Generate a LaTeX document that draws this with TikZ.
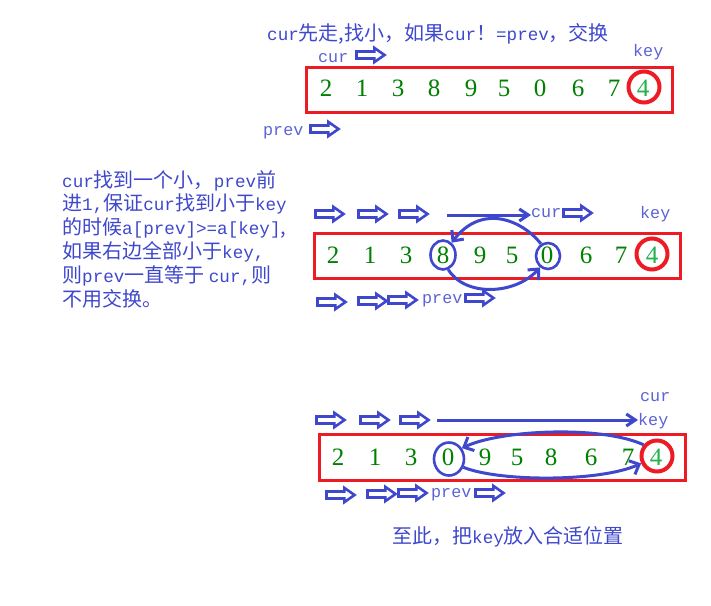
\documentclass[tikz,border=0pt]{standalone}
\usepackage{fontspec}
\setmainfont{Liberation Serif}
\newfontfamily\cjk{Noto Sans CJK SC}
\newfontfamily\mono[Scale=0.88]{Liberation Mono}
\usetikzlibrary{arrows.meta}
\usetikzlibrary{shapes.arrows}
\usetikzlibrary{shapes.geometric}
\definecolor{indigo}{RGB}{63,72,204}
\definecolor{rougep}{RGB}{237,28,36}
\definecolor{vertcode}{RGB}{0,128,0}
\definecolor{vertp}{RGB}{34,177,76}
\newcommand{\en}[1]{{\mono #1}}
\tikzset{
  chiffre/.style={text=vertcode,font=\fontsize{25}{25}\selectfont,inner sep=0pt,anchor=base},
  cle/.style={chiffre,text=vertp},
  boite/.style={draw=rougep,line width=3pt},
  anneau/.style={circle,draw=rougep,line width=4pt,minimum size=31pt,inner sep=0pt},
  rond/.style={ellipse,draw=indigo,line width=2.6pt,inner sep=0pt},
  fleche/.style={single arrow,draw=indigo,line width=2.6pt,minimum height=28pt,
    inner sep=2.2pt,single arrow head extend=3.6pt,single arrow tip angle=70},
  etiq/.style={text=indigo!85,font=\mono\fontsize{19}{19}\selectfont,inner sep=0pt,anchor=base west},
  texte/.style={text=indigo,font=\cjk\fontsize{20}{23.8}\selectfont,inner sep=0pt,
    anchor=base west,align=left},
  trait/.style={draw=indigo,line width=3pt,-{Straight Barb[length=9pt,width=12pt]}},
  retour/.style={draw=indigo,line width=3pt,-{Straight Barb[length=8pt,width=15pt]}}
}
% une rangee de chiffres : nom, ligne de base, liste x/chiffre
\newcommand{\Rangee}[3]{%
  \foreach \x/\c [count=\i] in {#3}
    \node[chiffre] (#1\i) at (\x,#2) {\c};
}

\begin{document}
\begin{tikzpicture}[x=1pt,y=-1pt]
\fill[white] (0,0) rectangle (711,605);
\useasboundingbox (0,0) rectangle (711,605);

% premiere etape
\node[texte] (titre) at (267,40.5) {\en{cur}先走,找小，如果\en{cur}！\en{=prev}，交换};
\node[etiq] (curA) at (318,62) {cur};
\node[fleche] (fA1) at (368,55) {};
\node[etiq] (keyA) at (633,56) {key};
\draw[boite] (306,67) rectangle (672,112);
\Rangee{A}{96.5}{326/2,362/1,398/3,434/8,471/9,504/5,540/0,578/6,614/7}
\node[cle] (Ak) at (643,96.5) {4};
\node[anneau] (Ar) at (644,87) {};
\node[etiq] (prevA) at (263,135) {prev};
\node[fleche] (fA2) at (322,129) {};

% explication (ligne de base de la derniere ligne)
\node[texte] (explication) at (62,306) {\en{cur}找到一个小，\en{prev}前\\
  进\en{1,}保证\en{cur}找到小于\en{key}\\
  的时候\en{a[prev]>=a[key]},\\
  如果右边全部小于\en{key,}\\
  则\en{prev}一直等于 \en{cur,}则\\
  不用交换。};

% deuxieme etape
\node[fleche] (fB1) at (327,214) {};
\node[fleche] (fB2) at (370,214) {};
\node[fleche] (fB3) at (411,214) {};
\coordinate (dB) at (447,215);
\node[etiq] (curB) at (531,217) {cur};
\draw[trait] (dB) -- (curB.west |- dB);
\node[fleche] (fB4) at (575,213) {};
\node[etiq] (keyB) at (640,218) {key};
\draw[boite] (314,233) rectangle (680,278);
\Rangee{B}{263.5}{333/2,370/1,406/3,443/8,480/9,512/5,547/0,586/6,621/7}
\node[cle] (Bk) at (652,263.5) {4};
\node[anneau] (Br) at (652,254) {};
\node[rond,minimum width=25pt,minimum height=29pt] (B4r) at (443,255) {};
\node[rond,minimum width=24pt,minimum height=26pt] (B7r) at (548,256) {};
\draw[retour] (B7r.120) .. controls (522,220) and (482,203) .. (B4r.55);
\draw[retour] (B4r.-70) .. controls (465,297) and (515,295) .. (B7r.235);
\node[fleche] (fB5) at (329,302) {};
\node[fleche] (fB6) at (370,301) {};
\node[fleche] (fB7) at (400,300) {};
\node[etiq] (prevB) at (422,303) {prev};
\node[fleche] (fB8) at (477,298) {};

% troisieme etape
\node[fleche] (fC1) at (328,420) {};
\node[fleche] (fC2) at (372,420) {};
\node[fleche] (fC3) at (412,420) {};
\coordinate (dC) at (437,420);
\node[etiq] (curC) at (640,401) {cur};
\node[etiq] (keyC) at (638,425) {key};
\draw[trait] (dC) -- (keyC.west |- dC);
\draw[boite] (319,434) rectangle (685,480);
\Rangee{C}{465.5}{338/2,375/1,411/3,448/0,485/9,517/5,551/8,591/6,628/7}
\node[cle] (Ck) at (656,465.5) {4};
\node[anneau] (Cr) at (657,456) {};
\node[rond,minimum width=30pt,minimum height=33pt] (C4r) at (449,459) {};
\draw[retour] (Cr.140) .. controls (600,425) and (500,430) .. (C4r.40);
\draw[retour] (C4r.-30) .. controls (500,482) and (600,482) .. (Cr.205);
\node[fleche] (fC4) at (338,495) {};
\node[fleche] (fC5) at (379,494) {};
\node[fleche] (fC6) at (410,493) {};
\node[etiq] (prevC) at (431,497) {prev};
\node[fleche] (fC7) at (487,493) {};

\node[texte] (fin) at (392,543) {至此，把\en{key}放入合适位置};
\end{tikzpicture}
\end{document}
